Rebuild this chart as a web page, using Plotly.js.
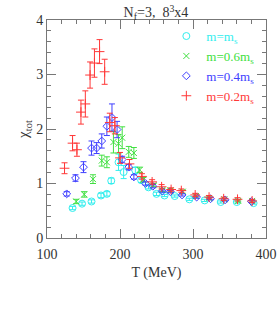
<!DOCTYPE html>
<html>
<head>
<meta charset="utf-8">
<script src="https://cdn.plot.ly/plotly-3.0.1.min.js"></script>
<style>html,body{margin:0;padding:0;background:#fff;}#chart{width:277px;height:330px;}</style>
</head>
<body>
<div id="chart"></div>
<script>
// m = m_s (cyan circles)
const T_ms = [135,148,161,174,182,188,198,205,221,229,239,250,261,275,295,316,338,360,383];
const chi_ms = [0.55,0.63,0.67,0.78,0.81,1.05,1.39,1.21,1.24,1.06,0.93,0.81,0.78,0.77,0.71,0.69,0.66,0.66,0.64];
const err_ms = [0.03,0.03,0.03,0.04,0.04,0.05,0.15,0.12,0.06,0.04,0.03,0.03,0.02,0.02,0.02,0.02,0.02,0.02,0.02];

// m = 0.6 m_s (green x)
const T_06 = [140,151,163,175,182,191,198,203,212,219,227,232,246,258,269,286,304,322,343,362,381];
const chi_06 = [0.67,0.80,1.08,1.42,1.39,1.76,1.73,1.84,1.58,1.56,1.25,1.07,0.97,0.88,0.875,0.85,0.77,0.73,0.71,0.68,0.68];
const err_06 = [0.04,0.05,0.08,0.10,0.10,0.20,0.17,0.20,0.10,0.10,0.05,0.04,0.03,0.03,0.03,0.03,0.02,0.02,0.02,0.02,0.02];

// m = 0.4 m_s (blue diamonds)
const T_04 = [127,139,150,161,168,175,182,189,196,203,212,219,235,245,258,269,285,305,324,344,380];
const chi_04 = [0.81,1.10,1.30,1.65,1.65,1.78,2.05,2.21,1.99,1.44,1.30,1.12,1.00,0.95,0.86,0.85,0.79,0.75,0.72,0.70,0.67];
const err_04 = [0.04,0.06,0.10,0.13,0.10,0.13,0.17,0.25,0.15,0.06,0.05,0.04,0.03,0.03,0.02,0.02,0.02,0.02,0.02,0.02,0.02];

// m = 0.2 m_s (red plus)
const T_02 = [124,135,141,146.5,152.5,159,165,172,179,186,193,200,213,230,244,257,270,284,303,322,342,361,381];
const chi_02 = [1.28,1.74,1.62,2.31,2.46,2.99,3.21,3.42,3.05,2.12,2.06,1.47,1.36,1.13,1.03,0.94,0.89,0.87,0.79,0.75,0.72,0.71,0.68];
const err_02 = [0.10,0.14,0.12,0.22,0.24,0.24,0.26,0.22,0.23,0.17,0.15,0.10,0.08,0.05,0.04,0.04,0.03,0.03,0.03,0.03,0.03,0.03,0.03];

const xTicks = [100,200,300,400];
const yTicks = [0,1,2,3,4];

const CYAN = '#33eeee', GREEN = '#40e040', BLUE = '#4040ff', RED = '#ff3838';
const FONT = 'Liberation Serif, Times New Roman, serif';

function trace(x, y, e, color, symbol, size, label) {
  return {
    x: x, y: y, type: 'scatter', mode: 'markers',
    name: '<span style="color:' + color + '">' + label + '</span>',
    marker: {symbol: symbol, size: size, color: color, line: {color: color, width: 1}},
    error_y: {type: 'data', array: e, visible: true, color: color, thickness: 1, width: 3}
  };
}

const data = [
  trace(T_ms, chi_ms, err_ms, CYAN, 'circle-open', 7, 'm=m<sub>s</sub>'),
  trace(T_06, chi_06, err_06, GREEN, 'x-thin-open', 6, 'm=0.6m<sub>s</sub>'),
  trace(T_04, chi_04, err_04, BLUE, 'diamond-open', 6, 'm=0.4m<sub>s</sub>'),
  trace(T_02, chi_02, err_02, RED, 'cross-thin-open', 7, 'm=0.2m<sub>s</sub>')
];

const axisCommon = {
  showgrid: false, zeroline: false, showline: true, mirror: 'allticks',
  linecolor: '#777', linewidth: 1, ticks: 'inside', tickcolor: '#777', ticklen: 9, tickwidth: 1,
  tickfont: {family: FONT, size: 14, color: '#333'},
  minor: {ticks: 'inside', ticklen: 4, tickcolor: '#777', tickwidth: 1, showgrid: false}
};

const layout = {
  width: 277, height: 330,
  margin: {l: 47, r: 11, t: 20, b: 92},
  paper_bgcolor: '#fff', plot_bgcolor: '#fff',
  font: {family: FONT, size: 14, color: '#333'},
  title: {text: 'N<sub>f</sub>=3,  8<sup>3</sup>x4', x: 0.563, xanchor: 'center',
          yref: 'container', y: 0.962, yanchor: 'middle',
          font: {family: FONT, size: 14, color: '#333'}},
  xaxis: Object.assign({}, axisCommon, {
    range: [100, 400], tickvals: xTicks, ticktext: xTicks.map(String),
    ticklabelstandoff: 3,
    minor: Object.assign({}, axisCommon.minor, {dtick: 20, tick0: 100}),
    title: {text: 'T (MeV)', font: {family: FONT, size: 14, color: '#333'}, standoff: 6}
  }),
  yaxis: Object.assign({}, axisCommon, {
    range: [0, 4], tickvals: yTicks, ticktext: yTicks.map(String),
    minor: Object.assign({}, axisCommon.minor, {dtick: 0.2, tick0: 0}),
    title: {text: 'χ<sub>tot</sub>', font: {family: FONT, size: 15, color: '#333'}, standoff: 3}
  }),
  showlegend: true,
  legend: {x: 0.545, y: 0.995, xanchor: 'left', yanchor: 'top', bgcolor: 'rgba(0,0,0,0)',
           font: {family: FONT, size: 13, color: '#333'}, itemwidth: 30, tracegroupgap: 0}
};

Plotly.newPlot('chart', data, layout, {displayModeBar: false, staticPlot: true});
</script>
</body>
</html>
